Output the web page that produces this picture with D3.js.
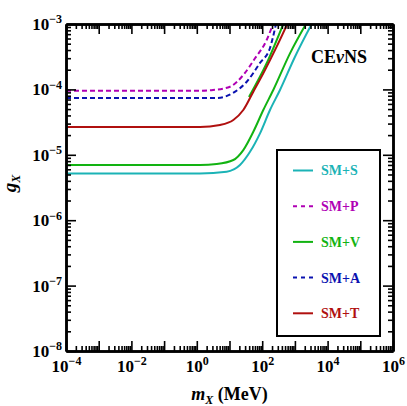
<!DOCTYPE html>
<html>
<head>
<meta charset="utf-8">
<title>CEvNS g_X vs m_X</title>
<script src="https://cdn.jsdelivr.net/npm/d3@7"></script>
<style>
	body { margin: 0; background: #fff; }
	svg text { font-family: "Liberation Serif", "DejaVu Serif", serif !important; font-weight: bold; }
	.axis path, .axis line { stroke: #000; }
</style>
</head>
<body>
<div id="chart"></div>
<script>

	// Curves: mediator mass m_X (MeV) and coupling g_X.
	const massS = [1e-4, 1.25, 8.2, 20.9, 42.4, 85.7, 173, 350, 1007, 3266];
	const gS    = [5.18e-6, 5.18e-6, 5.52e-6, 6.98e-6, 1.11e-5, 2.13e-5, 4.84e-5, 9.79e-5, 3.16e-4, 1e-3];

	const massP = [1e-4, 1.25, 3.13, 10.4, 26.4, 60.3, 137, 214];
	const gP    = [9.55e-5, 9.55e-5, 9.8e-5, 1.10e-4, 1.66e-4, 2.99e-4, 5.69e-4, 1e-3];

	const massV = [1e-4, 1.25, 4.06, 13.1, 26.4, 53.5, 108, 218, 708, 2180];
	const gV    = [6.98e-6, 6.98e-6, 7.23e-6, 8.32e-6, 1.18e-5, 2.25e-5, 4.84e-5, 9.79e-5, 3.56e-4, 1e-3];

	// second (upper) branch of the SM+V contour
	const massV2 = [39.4, 137, 442];
	const gV2    = [7.66e-5, 2.51e-4, 1e-3];

	const massA = [1e-4, 1.25, 4.06, 12.8, 33.6, 85.7, 173, 264];
	const gA    = [7.40e-5, 7.40e-5, 7.40e-5, 8.81e-5, 1.31e-4, 2.54e-4, 4.30e-4, 1e-3];

	const massT = [1e-4, 1.25, 5.12, 13.1, 26.4, 53.5, 108, 277, 586];
	const gT    = [2.66e-5, 2.66e-5, 2.86e-5, 3.40e-5, 4.84e-5, 9.23e-5, 1.76e-4, 4.50e-4, 1e-3];

	const legendNames = ['SM+S', 'SM+P', 'SM+V', 'SM+A', 'SM+T'];
	const xDecades = d3.range(-4, 7);
	const yDecades = d3.range(-8, -2);

	const colors = {'SM+S': '#1bb3b6', 'SM+P': '#b000b4', 'SM+V': '#12b312', 'SM+A': '#0a12b0', 'SM+T': '#b0100f'};
	const dashed = {'SM+P': true, 'SM+A': true};

	const series = [
		{name: 'SM+S', m: massS, g: gS},
		{name: 'SM+P', m: massP, g: gP},
		{name: 'SM+V', m: massV, g: gV},
		{name: 'SM+V', m: massV2, g: gV2},
		{name: 'SM+A', m: massA, g: gA},
		{name: 'SM+T', m: massT, g: gT},
	];

	const FONT = '"Liberation Serif", "DejaVu Serif", serif';
	const W = 407, H = 406;
	const margin = {top: 24, right: 14, bottom: 55, left: 66};
	const width = W - margin.left - margin.right;
	const height = H - margin.top - margin.bottom;

	const svg = d3.select('#chart').append('svg')
		.attr('width', W)
		.attr('height', H)
		.attr('font-family', FONT)
		.attr('font-weight', 'bold');
	svg.append('rect').attr('width', W).attr('height', H).attr('fill', '#fff');

	const g = svg.append('g')
		.attr('transform', 'translate(' + margin.left + ',' + margin.top + ')');

	const x = d3.scaleLog().domain([1e-4, 1e6]).range([0, width]);
	const y = d3.scaleLog().domain([1e-8, 1e-3]).range([height, 0]);

	const xMajor = xDecades.map(e => Math.pow(10, e));
	const yMajor = yDecades.map(e => Math.pow(10, e));
	function minorsOf(decades) {
		const out = [];
		decades.slice(0, -1).forEach(e => {
			for (let k = 2; k <= 9; k++) out.push(k * Math.pow(10, e));
		});
		return out;
	}
	const xMinor = minorsOf(xDecades);
	const yMinor = minorsOf(yDecades);

	// Write 10^e labels with a raised exponent.
	function powerLabels(sel, show) {
		sel.selectAll('.tick text').each(function(d) {
			const e = Math.round(Math.log10(d));
			const t = d3.select(this).text(null);
			if (!show(e)) return;
			t.append('tspan').text('10');
			t.append('tspan')
				.attr('dy', '-0.55em')
				.attr('font-size', 12)
				.text(e < 0 ? '\u2212' + (-e) : String(e));
		});
	}

	function styleAxis(sel) {
		sel.attr('font-family', FONT).attr('font-size', 17).attr('class', 'axis');
		sel.selectAll('line').attr('stroke-width', 1.6);
		sel.select('.domain').attr('stroke-width', 2.5);
	}

	// Clip the curves to the frame.
	g.append('clipPath').attr('id', 'clip')
		.append('rect').attr('width', width).attr('height', height);

	const line = d3.line()
		.x(d => x(d[0]))
		.y(d => y(d[1]))
		.curve(d3.curveMonotoneX);

	g.append('g').attr('clip-path', 'url(#clip)')
		.selectAll('path')
		.data(series)
		.join('path')
			.attr('d', s => line(s.m.map((m, i) => [m, s.g[i]])))
			.attr('fill', 'none')
			.attr('stroke', s => colors[s.name])
			.attr('stroke-width', 2)
			.attr('stroke-dasharray', s => dashed[s.name] ? '5,3' : null);

	// Minor ticks on all four sides, pointing inward.
	g.append('g').attr('transform', 'translate(0,' + height + ')')
		.call(d3.axisBottom(x).tickValues(xMinor).tickSize(-5).tickSizeOuter(0).tickFormat(''))
		.call(styleAxis);
	g.append('g')
		.call(d3.axisTop(x).tickValues(xMinor).tickSize(-5).tickSizeOuter(0).tickFormat(''))
		.call(styleAxis);
	g.append('g')
		.call(d3.axisLeft(y).tickValues(yMinor).tickSize(-5).tickSizeOuter(0).tickFormat(''))
		.call(styleAxis);
	g.append('g').attr('transform', 'translate(' + width + ',0)')
		.call(d3.axisRight(y).tickValues(yMinor).tickSize(-5).tickSizeOuter(0).tickFormat(''))
		.call(styleAxis);

	// Major ticks and labels.
	g.append('g').attr('transform', 'translate(0,' + height + ')')
		.call(d3.axisBottom(x).tickValues(xMajor).tickSize(-10).tickSizeOuter(0).tickPadding(9))
		.call(styleAxis)
		.call(sel => powerLabels(sel, e => e % 2 === 0));
	g.append('g')
		.call(d3.axisTop(x).tickValues(xMajor).tickSize(-10).tickSizeOuter(0).tickFormat(''))
		.call(styleAxis);
	g.append('g')
		.call(d3.axisLeft(y).tickValues(yMajor).tickSize(-10).tickSizeOuter(0).tickPadding(4))
		.call(styleAxis)
		.call(sel => powerLabels(sel, e => true));
	g.append('g').attr('transform', 'translate(' + width + ',0)')
		.call(d3.axisRight(y).tickValues(yMajor).tickSize(-10).tickSizeOuter(0).tickFormat(''))
		.call(styleAxis);

	// Axis titles.
	const xTitle = g.append('text')
		.attr('x', width / 2)
		.attr('y', height + 49)
		.attr('text-anchor', 'middle')
		.attr('font-size', 18);
	xTitle.append('tspan').attr('font-style', 'italic').text('m');
	xTitle.append('tspan').attr('font-style', 'italic').attr('font-size', 12).attr('dy', 4).text('X');
	xTitle.append('tspan').attr('dy', -4).text(' (MeV)');

	const yTitle = g.append('text')
		.attr('transform', 'translate(' + (-50) + ',' + (height / 2 - 4) + ') rotate(-90)')
		.attr('text-anchor', 'middle')
		.attr('font-size', 19);
	yTitle.append('tspan').attr('font-style', 'italic').text('g');
	yTitle.append('tspan').attr('font-style', 'italic').attr('font-size', 12).attr('dy', 4).text('X');

	// Panel label.
	const panel = g.append('text')
		.attr('x', width - 26)
		.attr('y', 39)
		.attr('text-anchor', 'end')
		.attr('font-size', 18);
	panel.append('tspan').text('CE');
	panel.append('tspan').attr('font-style', 'italic').text('\u03bd');
	panel.append('tspan').text('NS');

	// Legend.
	const legend = g.append('g').attr('transform', 'translate(' + (width - 116) + ',126)');
	legend.append('rect')
		.attr('width', 103)
		.attr('height', 186)
		.attr('fill', '#fff')
		.attr('stroke', '#000')
		.attr('stroke-width', 2);
	const rows = legend.selectAll('g.row')
		.data(legendNames)
		.join('g')
			.attr('class', 'row')
			.attr('transform', (d, i) => 'translate(0,' + (20.5 + i * 35.7) + ')');
	rows.append('line')
		.attr('x1', 16).attr('x2', 36)
		.attr('stroke', d => colors[d])
		.attr('stroke-width', 2)
		.attr('stroke-dasharray', d => dashed[d] ? '4,4' : null);
	rows.append('text')
		.attr('x', 44)
		.attr('dy', '0.35em')
		.attr('font-size', 14)
		.attr('fill', d => colors[d])
		.text(d => d);

</script>
</body>
</html>
